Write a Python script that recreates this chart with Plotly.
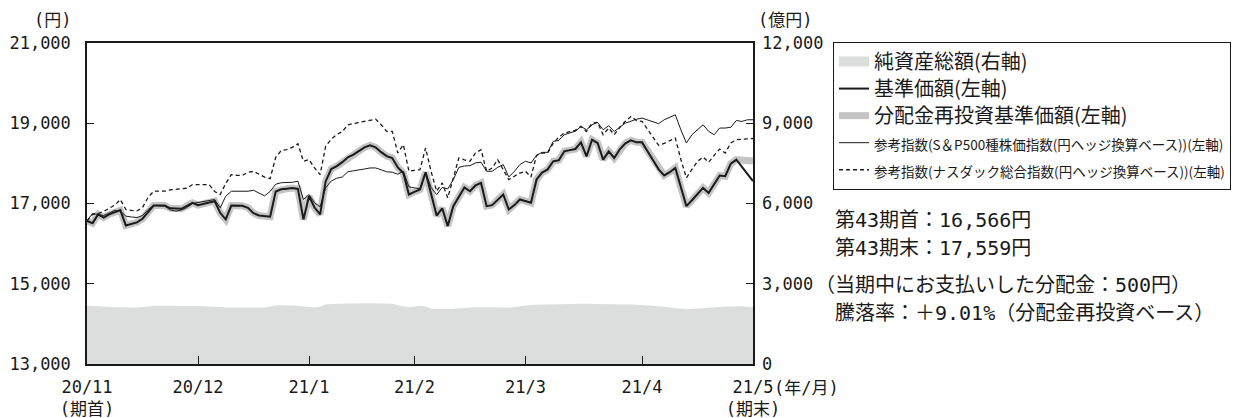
import plotly.graph_objects as go

# ---------------- data ----------------
day_index = list(range(121))
x_tick_vals = [0, 20, 40, 59, 79, 100, 120]
x_tick_text = ["20/11<br>(期首)", "20/12", "21/1", "21/2", "21/3", "21/4", "21/5<br>(期末)"]

y_left_ticks = [13000, 15000, 17000, 19000, 21000]
y_left_text = ["13,000", "15,000", "17,000", "19,000", "21,000"]
y_right_ticks = [0, 3000, 6000, 9000, 12000]
y_right_text = ["0", "3,000", "6,000", "9,000", "12,000"]

# 基準価額 (円) ; None = no price published (Golden Week)
fund_nav = [
    16566, 16510, 16727, 16650, 16730, 16780, 16834, 16453, 16490, 16530,
    16620, 16800, 16950, 16950, 16950, 16880, 16868, 16868, 16940, 17017,
    16960, 16990, 17030, 17058, 16768, 16603, 16950, 16950, 16945, 16892,
    16760, 16700, 16680, 16669, 17300, 17355, 17370, 17385, 17364, 16603,
    17182, 16900, 16727, 17550, 17860, 17930, 18030, 18150, 18220, 18310,
    18400, 18449, 18400, 18280, 18180, 18134, 17900, 17760, 17224, 17290,
    17348, 17778, 17200, 16700, 16880, 16437, 16934, 17150, 17400, 17306,
    17450, 17513, 16934, 16960, 17100, 17224, 16851, 16960, 17100, 17058,
    17017, 17600, 17770, 17850, 18052, 18076, 18300, 18330, 18358, 18524,
    18176, 18590, 18507, 18093, 18300, 18134, 18350, 18500, 18573, 18524,
    18524, 18300, 18080, 17850, 17700, 17780, 17886, 17400, 16934, 17080,
    17240, 17389, 17265, 17480, 17696, 17680, 17994, 18093, None, None,
    17559,
]
# 分配金再投資基準価額: same as 基準価額 until the distribution (500円) at period end
reinvest_end_value = 18058
reinvest_nav = fund_nav[:-1] + [reinvest_end_value]

# 参考指数 S&P500 (円ヘッジ換算)
sp500_ref = [
    16566, 16752, 16727, 16700, 16760, 16830, 16810, 16685, 16665, 16650,
    16700, 16850, 16950, 16945, 16935, 16840, 16810, 16835, 16900, 17000,
    17025, 17050, 17080, 17099, 16892, 17182, 17306, 17306, 17306, 17306,
    17330, 17260, 17190, 17300, 17480, 17518, 17522, 17528, 17555, 17099,
    17224, 17017, 16920, 17389, 17560, 17630, 17660, 17790, 17815, 17830,
    17860, 17886, 17886, 17840, 17790, 17780, 17730, 17803, 17414, 17390,
    17364, 17778, 17400, 17220, 17400, 17364, 17596, 17900, 17935, 17944,
    18010, 18030, 17803, 17803, 17900, 17969, 17662, 17800, 17970, 18052,
    18010, 18200, 18275, 18275, 18548, 18573, 18714, 18760, 18800, 18921,
    18838, 18962, 19020, 18838, 18938, 18797, 18900, 19004, 19050, 19100,
    19128, 19080, 19030, 18990, 19087, 19150, 19211, 18838, 18507, 18714,
    18840, 18962, 18800, 18714, 18880, 18880, 18900, 19070, 19045, 19087,
    19087,
]

# 参考指数 ナスダック総合 (円ヘッジ換算)
nasdaq_ref = [
    16566, 16727, 16750, 16800, 16880, 16960, 17099, 16851, 16830, 16815,
    16900, 17150, 17306, 17306, 17306, 17340, 17355, 17364, 17380, 17472,
    17472, 17472, 17472, 17300, 17224, 17500, 17720, 17700, 17700, 17780,
    17800, 17730, 17660, 17621, 18150, 18320, 18341, 18400, 18490, 18052,
    18093, 17886, 17720, 18424, 18600, 18720, 18790, 18962, 18990, 19020,
    19060, 19087, 19103, 18962, 18797, 18797, 18259, 18466, 17803, 17825,
    17845, 18383, 17800, 17306, 17513, 17141, 17638, 18134, 18090, 18052,
    18259, 18341, 17803, 17886, 18093, 17850, 17596, 17680, 17760, 17803,
    17660, 18200, 18259, 18259, 18500, 18650, 18755, 18790, 18822, 18921,
    18797, 19004, 19020, 18714, 18880, 18714, 18900, 19050, 19169, 19070,
    19045, 18850, 18650, 18450, 18500, 18560, 18631, 18100, 17638, 17850,
    18050, 18159, 18027, 18200, 18358, 18259, 18507, 18590, 18600, 18606,
    18620,
]

# 純資産総額 (億円)
net_assets = [
    2175, 2170, 2165, 2160, 2140, 2120, 2112,
    2110, 2112, 2115, 2130, 2160, 2175,
    2175, 2178, 2178, 2175, 2175, 2172, 2170, 2165, 2160, 2155,
    2150, 2135, 2112, 2115, 2120, 2118, 2115, 2112, 2112, 2115, 2150,
    2200, 2200, 2195, 2190, 2175, 2150, 2130, 2112, 2150,
    2225, 2240, 2250, 2255, 2262, 2268, 2272, 2275,
    2275, 2272, 2265, 2258, 2250, 2200, 2150,
    2125, 2150, 2175, 2150, 2062, 2060, 2055, 2050,
    2060, 2080, 2100, 2115, 2125, 2125, 2120, 2115, 2112, 2112, 2112,
    2130, 2160, 2190, 2205,
    2212, 2220, 2228, 2235, 2240, 2245, 2248, 2250, 2250, 2250,
    2250, 2248, 2245, 2240, 2235, 2230, 2225, 2220, 2215, 2212,
    2200, 2180, 2160, 2140, 2110, 2080, 2060, 2050,
    2060, 2080, 2100, 2115, 2125, 2135, 2145, 2155, 2162, 2160, 2140, 2125,
]

# ---------------- figure ----------------
W, H = 1234, 418
PL, PR, PT, PB = 87, 753, 43, 364  # plot area in pixels

def px(x):
    return (x - PL) / (PR - PL)

def py(y):
    return (PB - y) / (PB - PT)

MONO = "DejaVu Sans Mono, Noto Sans CJK JP, sans-serif"
CJK = "Noto Sans CJK JP, sans-serif"
INK = "#1a1a1a"
AREA = "#dcdddd"

def big(t):
    return '<span style="font-size:20px">' + t + '</span>'

def small(t):
    return '<span style="font-size:13.5px">' + t + '</span>'

fig = go.Figure()

fig.add_trace(go.Scatter(
    x=day_index, y=net_assets, yaxis="y2", name="純資産総額(右軸)",
    mode="lines", line=dict(width=0, color=AREA),
    fill="tozeroy", fillcolor=AREA, showlegend=False, hoverinfo="skip",
))
# legend-only entry for the area (box-like swatch)
fig.add_trace(go.Scatter(
    x=[None], y=[None], yaxis="y2", name=big("純資産総額(右軸)"),
    mode="lines", line=dict(width=16, color=AREA), legendrank=1,
))
fig.add_trace(go.Scatter(
    x=day_index, y=reinvest_nav, name=big("分配金再投資基準価額(左軸)"),
    mode="lines", line=dict(width=7, color="#c4c4c4"), connectgaps=True,
    legendrank=3,
))
fig.add_trace(go.Scatter(
    x=day_index, y=fund_nav, name=big("基準価額(左軸)"),
    mode="lines", line=dict(width=2, color=INK), connectgaps=True,
    legendrank=2,
))
fig.add_trace(go.Scatter(
    x=day_index, y=sp500_ref,
    name=small("参考指数(S＆P500種株価指数(円ヘッジ換算ベース))(左軸)"),
    mode="lines", line=dict(width=1, color=INK), legendrank=4,
))
fig.add_trace(go.Scatter(
    x=day_index, y=nasdaq_ref,
    name=small("参考指数(ナスダック総合指数(円ヘッジ換算ベース))(左軸)"),
    mode="lines", line=dict(width=1.3, color=INK, dash="4px,3px"), legendrank=5,
))

annotations = [
    dict(text="(円)", x=px(52), y=py(20)),
    dict(text="(億円)", x=px(785), y=py(20)),
    dict(text="(年/月)", x=px(772), y=py(388), xanchor="left"),
]
notes = [
    ("第43期首：16,566円", 833, 220),
    ("第43期末：17,559円", 833, 248),
    ("（当期中にお支払いした分配金：500円）", 813, 285),
    ("騰落率：＋9.01%（分配金再投資ベース）", 833, 313),
]
for t, xx, yy in notes:
    annotations.append(dict(text=t, x=px(xx), y=py(yy), xanchor="left",
                            font=dict(family=MONO, size=20, color=INK)))
for a in annotations:
    a.setdefault("xref", "paper")
    a.setdefault("yref", "paper")
    a.setdefault("showarrow", False)
    a.setdefault("xanchor", "center")
    a.setdefault("yanchor", "middle")
    a.setdefault("font", dict(family=MONO, size=17, color=INK))

fig.update_layout(
    width=W, height=H,
    margin=dict(l=PL, r=W - PR, t=PT, b=H - PB, autoexpand=False),
    paper_bgcolor="white", plot_bgcolor="white",
    showlegend=True,
    legend=dict(
        x=px(833), y=py(42), xanchor="left", yanchor="top",
        bordercolor=INK, borderwidth=1, bgcolor="white",
        font=dict(family=CJK, size=18.5, color=INK),
        tracegroupgap=0, itemwidth=30, itemsizing="trace",
    ),
    xaxis=dict(
        range=[0, 120], tickvals=x_tick_vals, ticktext=x_tick_text,
        ticks="inside", ticklen=8, tickcolor=INK, showgrid=False, zeroline=False,
        showline=True, linecolor=INK, linewidth=1.5, mirror=True,
        ticklabelstandoff=7,
        tickfont=dict(family=MONO, size=17, color=INK),
    ),
    yaxis=dict(
        range=[13000, 21000], tickvals=y_left_ticks, ticktext=y_left_text,
        ticks="inside", ticklen=7, tickcolor=INK, showgrid=False, zeroline=False,
        showline=True, linecolor=INK, linewidth=1.5, mirror=True,
        ticklabelstandoff=11,
        tickfont=dict(family=MONO, size=17, color=INK),
    ),
    yaxis2=dict(
        range=[0, 12000], tickvals=y_right_ticks, ticktext=y_right_text,
        overlaying="y", side="right",
        ticks="inside", ticklen=7, tickcolor=INK, showgrid=False, zeroline=False,
        showline=False, ticklabelstandoff=8,
        tickfont=dict(family=MONO, size=17, color=INK),
    ),
    annotations=annotations,
)

fig.write_html("out.html")
